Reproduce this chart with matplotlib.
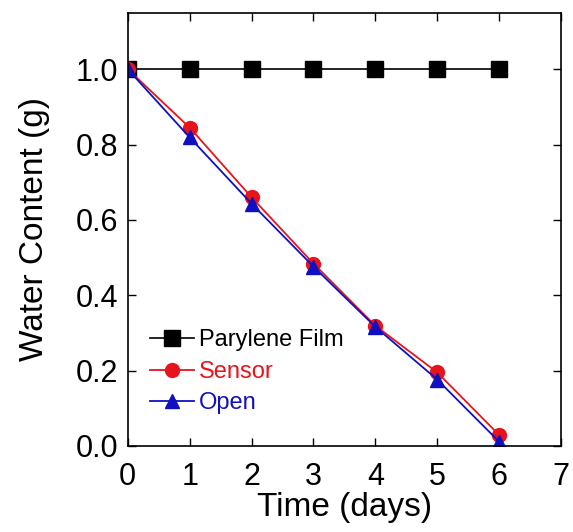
import matplotlib

matplotlib.use("Agg")
import matplotlib.pyplot as plt

plt.rcParams["font.family"] = ["Liberation Sans", "DejaVu Sans"]

days = [0, 1, 2, 3, 4, 5, 6]
parylene = [1.0, 1.0, 1.0, 1.0, 1.0, 1.0, 1.0]
sensor = [1.0, 0.845, 0.66, 0.484, 0.319, 0.195, 0.029]
open_ = [1.0, 0.819, 0.643, 0.476, 0.316, 0.176, 0.011]

x_ticks = [0, 1, 2, 3, 4, 5, 6, 7]
y_ticks = [0.0, 0.2, 0.4, 0.6, 0.8, 1.0]

fig = plt.figure(figsize=(5.73, 5.32), dpi=100)
ax = fig.add_axes([0.223, 0.162, 0.756, 0.814])

ax.plot(days, parylene, "s-", color="black", lw=1.2, ms=11, label="Parylene Film")
ax.plot(days, sensor, "o-", color="#e8141b", lw=1.3, ms=10, label="Sensor")
ax.plot(days, open_, "^-", color="#1010c0", lw=1.3, ms=10, label="Open")

ax.set_xlim(0, 7)
ax.set_ylim(0, 1.15)
ax.set_xticks(x_ticks)
ax.set_yticks(y_ticks)
ax.set_yticklabels([f"{v:.1f}" for v in y_ticks])
ax.tick_params(direction="in", top=True, right=True, length=6, width=1,
               labelsize=22)
ax.tick_params(axis="x", pad=12)
ax.tick_params(axis="y", pad=7)
for s in ax.spines.values():
    s.set_linewidth(1.2)

ax.set_xlabel("Time (days)", fontsize=24, labelpad=0)
ax.set_ylabel("Water Content (g)", fontsize=24, labelpad=18)

leg = ax.legend(loc="lower left", bbox_to_anchor=(0.03, 0.051), frameon=False,
                fontsize=17, handlelength=1.85, handletextpad=0.2,
                labelspacing=0.4, borderaxespad=0)
for txt, c in zip(leg.get_texts(), ["black", "#e8141b", "#1010c0"]):
    txt.set_color(c)

fig.savefig("out.png", dpi=100)
